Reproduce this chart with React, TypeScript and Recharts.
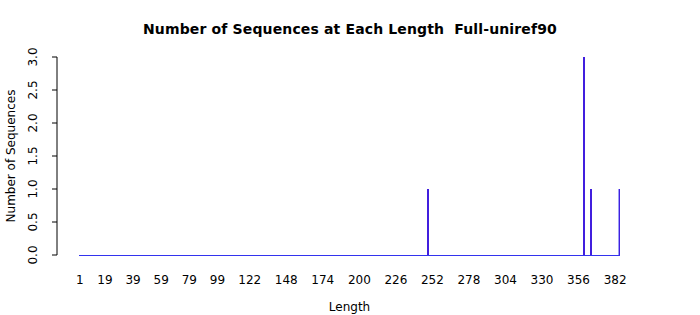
import { BarChart, Bar, XAxis, YAxis, ReferenceLine } from 'recharts';

const maxLength = 385;
const seqLengths = [249, 360, 365, 385];
const seqCounts = [1, 3, 1, 1];
const xTicks = [1, 19, 39, 59, 79, 99, 122, 148, 174, 200, 226, 252, 278, 304, 330, 356, 382];
const yTicks = [0, 0.5, 1, 1.5, 2, 2.5, 3];

const font = 'DejaVu Sans';

// one row per length, zero where no sequence has that length
const data = Array.from({ length: maxLength }, (_, i) => {
  const len = i + 1;
  const k = seqLengths.indexOf(len);
  return { len, count: k >= 0 ? seqCounts[k] : 0 };
});

function YTick({ x, y, payload }: any) {
  const tx = x - 13.5;
  return (
    <text
      x={tx} y={y} transform={`rotate(-90, ${tx}, ${y})`}
      textAnchor="middle" fontSize={12} fill="#000" fontFamily={font}
    >
      {Number(payload.value).toFixed(1)}
    </text>
  );
}

function SharpBar({ x, y, width, height }: any) {
  if (!height) return null;
  return (
    <rect
      x={x} y={y} width={width} height={height}
      fill="#4400cc" stroke="#3d3def" strokeWidth={0.5} shapeRendering="crispEdges"
    />
  );
}

export default function App() {
  return (
    <div style={{ position: 'absolute', left: 0, top: 0, width: 700, height: 315, background: '#fff' }}>
      <div style={{
        position: 'absolute', left: 0, top: 19, width: 700, textAlign: 'center',
        fontFamily: font, fontWeight: 'bold', fontSize: 14, lineHeight: '20px',
        letterSpacing: '0.14px', whiteSpace: 'pre',
      }}>
        {'Number of Sequences at Each Length  Full-uniref90'}
      </div>
      <BarChart width={700} height={315} data={data} margin={{ top: 57, right: 58, left: 0, bottom: 0 }}>
        <XAxis
          dataKey="len" type="number" domain={[0.5, maxLength + 0.5]} ticks={xTicks} interval={0}
          padding={{ left: 22, right: 22 }} axisLine={false} tickLine={false} height={60}
          tickSize={12} tickMargin={8}
          tick={{ fill: '#000', fontSize: 12, fontFamily: font }}
          label={{ value: 'Length', position: 'insideBottom', offset: 4, fill: '#000', fontSize: 12, fontFamily: font }}
        />
        <YAxis
          domain={[0, 3]} ticks={yTicks} width={57} tickSize={5} stroke="#000"
          tick={<YTick />}
          label={{ value: 'Number of Sequences', angle: -90, position: 'center', dx: -18, fill: '#000', fontSize: 12, fontFamily: font }}
        />
        <ReferenceLine
          segment={[{ x: 0.5, y: 0 }, { x: maxLength + 0.5, y: 0 }]}
          stroke="#3333ee" strokeWidth={1} shapeRendering="crispEdges"
        />
        <Bar dataKey="count" barSize={2} shape={<SharpBar />} isAnimationActive={false} />
      </BarChart>
    </div>
  );
}
